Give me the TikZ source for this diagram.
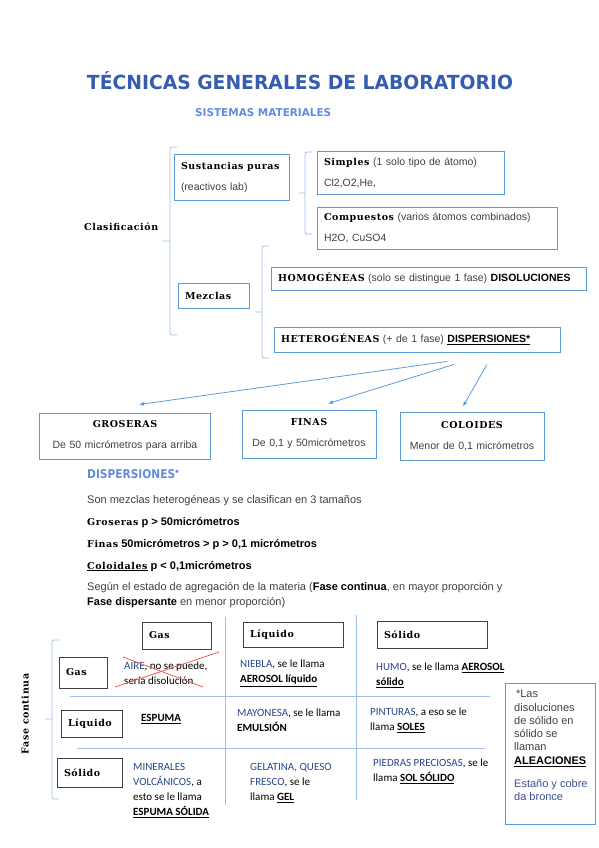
\documentclass[tikz,border=0pt]{standalone}
\usepackage{fontspec}
\setmainfont{Liberation Sans}
\newfontfamily\serifn{DejaVu Serif}[LetterSpace=6]
\newfontfamily\titfont{DejaVu Sans}
\newfontfamily\celda{Carlito}
\usepackage{graphicx}
\usepackage{tikz}
\usetikzlibrary{arrows.meta, positioning, calc, shadows}
\usepackage{xcolor}
\definecolor{CajaAzul}{RGB}{91, 155, 213}
\definecolor{LineaAzul}{RGB}{157, 190, 232}
\definecolor{TituloAzul}{RGB}{52, 92, 178}
\definecolor{SubAzul}{RGB}{98, 140, 222}
\definecolor{TextoGris}{RGB}{64, 64, 64}
\definecolor{CeldaAzul}{RGB}{40, 70, 140}
\definecolor{NotaAzul}{RGB}{62, 80, 150}
\definecolor{CruzRoja}{RGB}{232, 92, 92}
\newcommand{\encab}[1]{{\color{black}\serifn\bfseries\fontsize{9.5}{11}\selectfont #1}}

\begin{document}
\begin{tikzpicture}[x=1pt, y=-1pt,
    caja/.style={draw=CajaAzul, line width=0.9pt, inner xsep=7pt, inner ysep=2pt, align=left,
                 text=TextoGris, font=\fontsize{10.5}{21}\selectfont},
    cajat/.style={draw=black!75, fill=white, line width=0.9pt, inner xsep=7pt, align=left,
                  drop shadow={shadow xshift=1pt, shadow yshift=-1pt, fill=black!35},
                  font=\serifn\bfseries\fontsize{9.5}{11}\selectfont},
    llave/.style={draw=LineaAzul, line width=0.8pt, rounded corners=2pt},
    rejilla/.style={draw=LineaAzul, line width=0.8pt},
    flecha/.style={draw=CajaAzul, line width=0.8pt, -{Latex[length=5pt, width=4pt]}},
    cruz/.style={draw=CruzRoja, line width=0.8pt},
    enc/.style={inner sep=0pt, font=\serifn\bfseries\fontsize{9.5}{11}\selectfont},
    txt/.style={anchor=base west, inner sep=0pt, font=\fontsize{11}{12}\selectfont},
    cel/.style={anchor=north west, inner sep=0pt, align=left, font=\celda\fontsize{11}{15}\selectfont}]
\useasboundingbox (0,0) rectangle (599,848);

% titulos
\node[anchor=base, inner sep=0pt, text=TituloAzul] (titulo) at (300,90)
    {\resizebox{426pt}{18pt}{\titfont\bfseries TÉCNICAS GENERALES DE LABORATORIO}};
\node[anchor=base west, inner sep=0pt, text=SubAzul] (subtit) at (195,117)
    {\resizebox{136pt}{8pt}{\titfont\bfseries SISTEMAS MATERIALES}};

% clasificacion
\node[enc, anchor=west] (clasif) at (84,227) {Clasificación};
\node[caja, text width=101pt, minimum height=46pt] (sust) at (231.5,177)
    {\encab{Sustancias puras}\\ (reactivos lab)};
\node[caja, text width=173pt, minimum height=43pt] (simp) at (410.5,172.5)
    {\encab{Simples} (1 solo tipo de átomo)\\ Cl2,O2,He,};
\node[caja, text width=226pt, minimum height=42pt] (comp) at (437,228)
    {\encab{Compuestos} (varios átomos combinados)\\ H2O, CuSO4};
\node[caja, text width=57pt, minimum height=25pt] (mezc) at (213.5,295.5) {\encab{Mezclas}};
\node[caja, text width=301pt, minimum height=23pt] (homo) at (428.5,278.5)
    {\mbox{\encab{HOMOGÉNEAS} (solo se distingue 1 fase) {\color{black}\textbf{DISOLUCIONES}}}};
\node[caja, text width=272pt, minimum height=25pt] (hete) at (417,339.5)
    {\mbox{\encab{HETEROGÉNEAS} (+ de 1 fase) {\color{black}\underline{\textbf{DISPERSIONES*}}}}};

% llaves
\foreach \x/\a/\b/\m/\p in {170/147/335/241/162, 305/152/234/193/299, 262/246/358/312/255, 52/640/799/719/45}
    \draw[llave] (\x+7,\a) -- (\x,\a) -- (\x,\b) -- (\x+7,\b) (\x,\m) -- (\p,\m);

% tamanos
\node[caja, align=center, text width=157pt, minimum height=46pt] (gros) at (125,436)
    {\encab{GROSERAS}\\ De 50 micrómetros para arriba};
\node[caja, align=center, text width=120pt, minimum height=48pt] (finas) at (309,434)
    {\encab{FINAS}\\ De 0,1 y 50micrómetros};
\node[caja, align=center, text width=130pt, minimum height=48pt] (colo) at (472,436)
    {\encab{COLOIDES}\\ Menor de 0,1 micrómetros};
\draw[flecha] ($(hete.south)+(30,9)$) -- ($(gros.north)+(14,-8)$);
\draw[flecha] ($(hete.south)+(37,12)$) -- ($(finas.north)+(19,-6)$);
\draw[flecha] ($(hete.south)+(70,12)$) -- ($(colo.north)+(-9,-5)$);

% dispersiones
\node[anchor=base west, inner sep=0pt, text=SubAzul] (disp) at (87,478)
    {\resizebox{88pt}{9pt}{\titfont\bfseries DISPERSIONES}\raisebox{3pt}{\fontsize{11}{11}\selectfont•}};
\node[txt, text=TextoGris] (l1) at (87,503) {Son mezclas heterogéneas y se clasifican en 3 tamaños};
\node[txt] (l2) at (87,525) {\encab{Groseras} \textbf{p > 50micrómetros}};
\node[txt] (l3) at (87,547) {\encab{Finas} \textbf{50micrómetros > p > 0,1 micrómetros}};
\node[txt] (l4) at (87,569) {\underline{\encab{Coloidales}} \textbf{p < 0,1micrómetros}};
\node[txt, text=TextoGris] (l5) at (87,590)
    {Según el estado de agregación de la materia ({\color{black}\textbf{Fase continua}}, en mayor proporción y};
\node[txt, text=TextoGris] (l6) at (87,605) {{\color{black}\textbf{Fase dispersante}} en menor proporción)};

% tabla
\draw[rejilla] (225,617) -- (225,805);
\draw[rejilla] (356,615) -- (356,800);
\draw[rejilla] (70,696) -- (490,696);
\draw[rejilla] (77,748) -- (485,748);
\node[enc, rotate=90] (fase) at (25,714) {Fase continua};
\node[cajat, text width=55pt, minimum height=27pt] (tgas) at (176.5,635.5) {Gas};
\node[cajat, text width=86pt, minimum height=25pt] (tliq) at (293,634.5) {Líquido};
\node[cajat, text width=96pt, minimum height=27pt] (tsol) at (432,634.5) {Sólido};
\node[cajat, text width=34pt, minimum height=31pt] (rgas) at (83,672.5) {Gas};
\node[cajat, text width=47pt, minimum height=27pt] (rliq) at (91.5,723.5) {Líquido};
\node[cajat, text width=51pt, minimum height=29pt] (rsol) at (89.5,772.5) {Sólido};

\node[cel] (c11) at (124,662) {\textcolor{CeldaAzul}{AIRE}, no se puede,\\ sería disolución};
\draw[cruz] (115,687) -- (219,652);
\draw[cruz] (123,657) -- (203,687);
\node[cel] (c12) at (240,660) {\textcolor{CeldaAzul}{NIEBLA}, se le llama\\ \underline{\textbf{AEROSOL líquido}}};
\node[cel] (c13) at (376,663) {\textcolor{CeldaAzul}{HUMO}, se le llama \underline{\textbf{AEROSOL}}\\ \underline{\textbf{sólido}}};
\node[cel] (c21) at (141,714) {\underline{\textbf{ESPUMA}}};
\node[cel] (c22) at (237,709) {\textcolor{CeldaAzul}{MAYONESA}, se le llama\\ \textbf{EMULSIÓN}};
\node[cel] (c23) at (370,708) {\textcolor{CeldaAzul}{PINTURAS}, a eso se le\\ llama \underline{\textbf{SOLES}}};
\node[cel] (c31) at (133,763) {\textcolor{CeldaAzul}{MINERALES}\\ \textcolor{CeldaAzul}{VOLCÁNICOS}, a\\ esto se le llama\\ \underline{\textbf{ESPUMA SÓLIDA}}};
\node[cel] (c32) at (250,763) {\textcolor{CeldaAzul}{GELATINA, QUESO}\\ \textcolor{CeldaAzul}{FRESCO}, se le\\ llama \underline{\textbf{GEL}}};
\node[cel] (c33) at (373,759) {\textcolor{CeldaAzul}{PIEDRAS PRECIOSAS}, se le\\ llama \underline{\textbf{SOL SÓLIDO}}};

% nota
\node[draw=CajaAzul, line width=0.9pt, minimum width=90pt, minimum height=141pt, anchor=north west] (nota) at (505,683) {};
\node[anchor=north west, align=left, inner sep=0pt, text=TextoGris, font=\fontsize{11}{13.3}\selectfont] (notatxt)
    at ($(nota.north west)+(9,7)$)
    {\,*Las\\ disoluciones\\ de sólido en\\ sólido se\\ llaman\\ {\color{black}\underline{\textbf{ALEACIONES}}}\\[10pt]
     \textcolor{NotaAzul}{Estaño y cobre}\\ \textcolor{NotaAzul}{da bronce}};
\end{tikzpicture}
\end{document}
